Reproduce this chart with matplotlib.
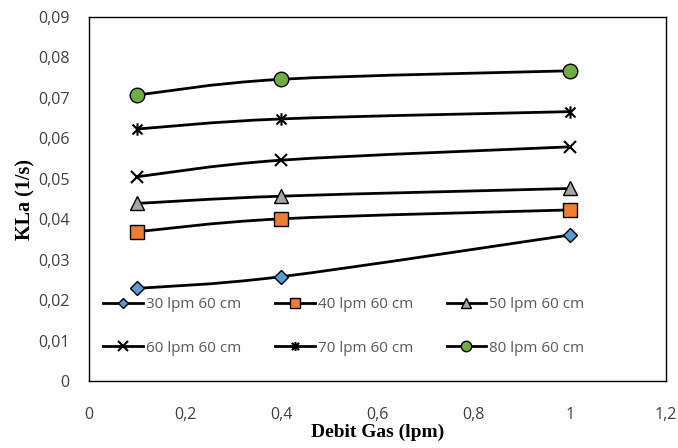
import matplotlib
matplotlib.use("Agg")
import matplotlib.pyplot as plt
import numpy as np
from matplotlib.path import Path
from matplotlib.patches import PathPatch
from matplotlib.lines import Line2D

debit_gas = [0.1, 0.4, 1.0]
series_labels = ["30 lpm 60 cm", "40 lpm 60 cm", "50 lpm 60 cm",
                 "60 lpm 60 cm", "70 lpm 60 cm", "80 lpm 60 cm"]
kla_30 = [0.0229, 0.0258, 0.0361]
kla_40 = [0.0369, 0.0401, 0.0423]
kla_50 = [0.0439, 0.0457, 0.0476]
kla_60 = [0.0505, 0.0546, 0.0579]
kla_70 = [0.0623, 0.0648, 0.0666]
kla_80 = [0.0707, 0.0746, 0.0767]
x_ticks = [0, 0.2, 0.4, 0.6, 0.8, 1.0, 1.2]
x_tick_labels = ["0", "0,2", "0,4", "0,6", "0,8", "1", "1,2"]
y_ticks = [0, 0.01, 0.02, 0.03, 0.04, 0.05, 0.06, 0.07, 0.08, 0.09]
y_tick_labels = ["0", "0,01", "0,02", "0,03", "0,04", "0,05", "0,06", "0,07", "0,08", "0,09"]

# asterisk marker: x plus vertical bar
star_path = Path([(-1, -1), (1, 1), (-1, 1), (1, -1), (0, -1.25), (0, 1.25)],
                 [Path.MOVETO, Path.LINETO, Path.MOVETO, Path.LINETO, Path.MOVETO, Path.LINETO])

styles = [
    dict(marker="D", ms=7.5, mfc="#5B9BD5", mec="black", mew=1.0),
    dict(marker="s", ms=9.5, mfc="#ED7D31", mec="black", mew=1.0),
    dict(marker="^", ms=9.5, mfc="#A5A5A5", mec="black", mew=1.0),
    dict(marker="x", ms=9, mfc="none", mec="black", mew=1.5),
    dict(marker=star_path, ms=9, mfc="none", mec="black", mew=1.5),
    dict(marker="o", ms=10.5, mfc="#70AD47", mec="black", mew=1.0),
]
legend_ms = [5.5, 7, 6.5, 7, 6.5, 7.5]

fig = plt.figure(figsize=(6.78, 4.48), dpi=100)
ax = fig.add_axes([89/678, 1 - 381/448, (666-89)/678, (381-17)/448])

def smooth_path(xs, ys):
    pts = np.column_stack([xs, ys])
    n = len(pts)
    verts = [tuple(pts[0])]
    codes = [Path.MOVETO]
    for i in range(n - 1):
        p0 = pts[i - 1] if i > 0 else pts[i]
        p1 = pts[i]
        p2 = pts[i + 1]
        p3 = pts[i + 2] if i + 2 < n else pts[i + 1]
        c1 = p1 + (p2 - p0) / 6.0
        c2 = p2 - (p3 - p1) / 6.0
        verts += [tuple(c1), tuple(c2), tuple(p2)]
        codes += [Path.CURVE4] * 3
    return Path(verts, codes)

all_series = [kla_30, kla_40, kla_50, kla_60, kla_70, kla_80]
handles = []
for vals, st, lab, lms in zip(all_series, styles, series_labels, legend_ms):
    patch = PathPatch(smooth_path(debit_gas, vals), fc="none", ec="black", lw=2.0, zorder=2)
    ax.add_patch(patch)
    ax.plot(debit_gas, vals, ls="none", zorder=3, **st)
    hst = dict(st)
    hst["ms"] = lms
    handles.append(Line2D([], [], color="black", lw=2.0, **hst))

ax.set_xlim(0, 1.2)
ax.set_ylim(0, 0.09)
ax.set_xticks(x_ticks)
ax.set_xticklabels(x_tick_labels)
ax.set_yticks(y_ticks)
ax.set_yticklabels(y_tick_labels)
ax.tick_params(length=0, labelsize=11.5, colors="#404040", labelfontfamily="Open Sans")
ax.tick_params(axis="x", pad=19)
ax.tick_params(axis="y", pad=14)
for s in ax.spines.values():
    s.set_color("black")
    s.set_linewidth(1.0)

ax.set_xlabel("Debit Gas (lpm)", fontfamily="Liberation Serif", fontweight="bold",
              fontsize=14, labelpad=0)
ax.set_ylabel("KLa (1/s)", fontfamily="Liberation Serif", fontweight="bold",
              fontsize=14.5, labelpad=2)

order = [0, 3, 1, 4, 2, 5]
leg = ax.legend(handles=[handles[i] for i in order],
                labels=[series_labels[i] for i in order], ncol=3, loc="lower left",
                bbox_to_anchor=(0.001, 0.032), frameon=False, handlelength=2.6,
                handletextpad=0.2, columnspacing=2.2, labelspacing=1.87,
                prop=dict(family="Open Sans", size=11))
for t in leg.get_texts():
    t.set_color("#595959")

fig.savefig("out.png", dpi=100)
